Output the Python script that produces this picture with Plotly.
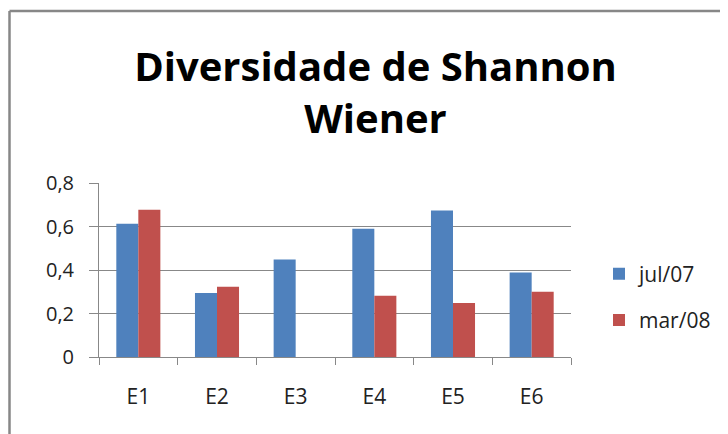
import plotly.graph_objects as go

categories = ["E1", "E2", "E3", "E4", "E5", "E6"]
jul07 = [0.613, 0.294, 0.448, 0.590, 0.673, 0.389]
mar08 = [0.677, 0.323, None, 0.282, 0.248, 0.300]
series_names = ["jul/07", "mar/08"]
y_tickvals = [0, 0.2, 0.4, 0.6, 0.8]
y_ticktext = ["0", "0,2", "0,4", "0,6", "0,8"]

BLUE = "#4F81BD"
RED = "#C0504D"
GRID = "#888888"
FONT = "Open Sans"

# page body has an 8px margin; work in reference pixel coords and shift
OFF = 8
W, H = 728 - OFF, 434 - OFF
L, R, T, B = 99 - OFF, 157, 183 - OFF, 77
pw, ph = W - L - R, H - T - B

def px_x(px):
    return (px - OFF - L) / pw

def px_y(py):
    return (H - B - (py - OFF)) / ph

fig = go.Figure()
fig.add_trace(go.Bar(x=categories, y=jul07, name=series_names[0],
                     marker=dict(color=BLUE, line=dict(width=0)), legendgroup="a"))
fig.add_trace(go.Bar(x=categories, y=mar08, name=series_names[1],
                     marker=dict(color=RED, line=dict(width=0)), legendgroup="b"))

fig.update_layout(
    width=W, height=H,
    margin=dict(l=L, r=R, t=T, b=B, autoexpand=False),
    paper_bgcolor="white", plot_bgcolor="white",
    barmode="group", bargap=0.44, bargroupgap=0,
    font=dict(family=FONT, color="#000000"),
    title=dict(text="<b>Diversidade de Shannon<br>Wiener</b>",
               x=(375.5 - OFF) / W, xanchor="center", xref="container",
               y=1 - 73 / H, yanchor="top", yref="container",
               font=dict(family=FONT, size=40, color="#000000")),
    legend=dict(x=px_x(599), y=px_y(297), xanchor="left", yanchor="middle",
                font=dict(family=FONT, size=21, color="#222222"),
                tracegroupgap=16, bgcolor="rgba(0,0,0,0)"),
    showlegend=True,
)

fig.update_xaxes(
    type="category", range=[-0.5, 5.5],
    showline=True, linecolor=GRID, linewidth=1,
    ticks="outside", tickson="boundaries", ticklen=7, tickcolor=GRID,
    tickfont=dict(family=FONT, size=21, color="#222222"),
    ticklabelstandoff=21,
    showgrid=False, zeroline=False,
)
fig.update_yaxes(
    range=[0, 0.8], tickvals=y_tickvals, ticktext=y_ticktext,
    showline=True, linecolor=GRID, linewidth=1,
    ticks="outside", ticklen=9, tickcolor=GRID,
    tickfont=dict(family=FONT, size=20, color="#222222"),
    ticklabelstandoff=11,
    showgrid=True, gridcolor=GRID, gridwidth=1,
    zeroline=False,
)

# outer chart-area border (left and top edges visible in the crop)
fig.add_shape(type="line", xref="paper", yref="paper",
              x0=px_x(9.5), x1=px_x(740), y0=px_y(11), y1=px_y(11),
              line=dict(color="#878787", width=2.5))
fig.add_shape(type="line", xref="paper", yref="paper",
              x0=px_x(9.5), x1=px_x(9.5), y0=px_y(11), y1=px_y(440),
              line=dict(color="#878787", width=2.5))

fig.write_html("out.html")
